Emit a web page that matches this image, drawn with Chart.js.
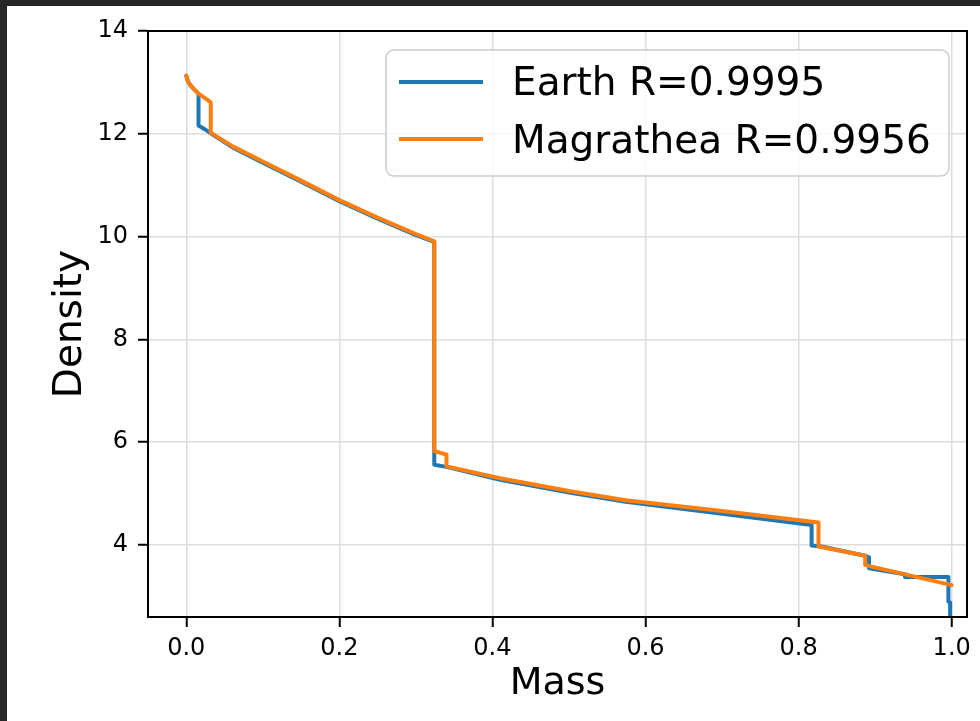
<!DOCTYPE html>
<html>
<head>
<meta charset="utf-8">
<script src="https://cdn.jsdelivr.net/npm/chart.js@4/dist/chart.umd.min.js"></script>
<style>
    html, body { margin: 0; padding: 0; background: #272727; }
    #wrap { width: 980px; height: 721px; }
</style>
</head>
<body>
<div id="wrap"><canvas id="densityChart" width="980" height="721"></canvas></div>
<script>
// Earth profile (mass fraction vs density)
const earthMass = [0, 0.002, 0.005, 0.010, 0.016, 0.016, 0.024, 0.033, 0.060, 0.100, 0.150, 0.200, 0.250, 0.300, 0.324,
    0.324, 0.340, 0.410, 0.500, 0.574, 0.700, 0.817, 0.817, 0.830, 0.887, 0.892, 0.892, 0.939, 0.939, 0.9957, 0.9957, 0.998, 0.998];
const earthDensity = [13.13, 13.03, 12.95, 12.87, 12.78, 12.16, 12.09, 12.00, 11.74, 11.44, 11.07, 10.69, 10.35, 10.03, 9.90,
    5.56, 5.52, 5.27, 5.02, 4.84, 4.61, 4.39, 3.99, 3.97, 3.79, 3.76, 3.55, 3.43, 3.38, 3.38, 2.90, 2.88, 2.40];

// Magrathea profile
const magMass = [0, 0.002, 0.005, 0.010, 0.016, 0.024, 0.032, 0.032, 0.060, 0.100, 0.150, 0.200, 0.250, 0.300, 0.324,
    0.324, 0.340, 0.340, 0.410, 0.500, 0.574, 0.700, 0.826, 0.826, 0.887, 0.887, 1.000];
const magDensity = [13.13, 13.03, 12.95, 12.87, 12.78, 12.70, 12.61, 12.02, 11.76, 11.46, 11.09, 10.71, 10.37, 10.05, 9.91,
    5.83, 5.76, 5.53, 5.30, 5.05, 4.87, 4.66, 4.44, 3.97, 3.79, 3.61, 3.22];

const seriesLabels = ["Earth R=0.9995", "Magrathea R=0.9956"];
const seriesColors = ["#1f77b4", "#ff7f0e"];
const xTicks = [0, 0.2, 0.4, 0.6, 0.8, 1.0];
const yTicks = [4, 6, 8, 10, 12, 14];

const FONT = "DejaVu Sans";
const LINE_W = 4;

function toPoints(xs, ys) {
    return xs.map((x, i) => ({ x: x, y: ys[i] }));
}

// dark frame + white figure background, spines on all four sides
const framePlugin = {
    id: "frame",
    beforeDraw(chart) {
        const ctx = chart.ctx;
        ctx.save();
        ctx.fillStyle = "#272727";
        ctx.fillRect(0, 0, chart.width, chart.height);
        ctx.fillStyle = "#ffffff";
        ctx.fillRect(7, 6, chart.width - 7, chart.height - 6);
        ctx.restore();
    },
    afterDraw(chart) {
        const a = chart.chartArea;
        const ctx = chart.ctx;
        ctx.save();
        ctx.strokeStyle = "#000";
        ctx.lineWidth = 2;
        ctx.strokeRect(a.left, a.top, a.right - a.left, a.bottom - a.top);
        ctx.restore();
    }
};

// matplotlib-like legend inside the plot
const boxLegend = {
    id: "boxLegend",
    afterDraw(chart) {
        const ctx = chart.ctx;
        const x = 386, y = 50, w = 563, h = 126, r = 8;
        ctx.save();
        ctx.beginPath();
        ctx.roundRect(x, y, w, h, r);
        ctx.fillStyle = "rgba(255,255,255,0.8)";
        ctx.fill();
        ctx.strokeStyle = "#cccccc";
        ctx.lineWidth = 1.5;
        ctx.stroke();
        ctx.font = "39px '" + FONT + "'";
        ctx.textBaseline = "alphabetic";
        chart.data.datasets.forEach((ds, i) => {
            const ly = 82 + i * 57;
            ctx.beginPath();
            ctx.moveTo(399, ly);
            ctx.lineTo(483, ly);
            ctx.strokeStyle = ds.borderColor;
            ctx.lineWidth = LINE_W;
            ctx.stroke();
            ctx.fillStyle = "#000";
            ctx.fillText(ds.label, 512, 95 + i * 58);
        });
        ctx.restore();
    }
};

new Chart(document.getElementById("densityChart"), {
    type: "scatter",
    data: {
        datasets: [
            { label: seriesLabels[0], data: toPoints(earthMass, earthDensity), borderColor: seriesColors[0],
              borderWidth: LINE_W, showLine: true, order: 1 },
            { label: seriesLabels[1], data: toPoints(magMass, magDensity), borderColor: seriesColors[1],
              borderWidth: LINE_W, showLine: true, order: 0 }
        ]
    },
    options: {
        responsive: false,
        animation: false,
        layout: { padding: { left: 0, right: 13, top: 31, bottom: 0 } },
        elements: {
            line: { tension: 0, fill: false, borderJoinStyle: "round", borderCapStyle: "round" },
            point: { radius: 0, hoverRadius: 0 }
        },
        plugins: { legend: { display: false }, tooltip: { enabled: false } },
        scales: {
            x: {
                type: "linear",
                min: -0.05,
                max: 1.02,
                afterFit: scale => { scale.height = 104; },
                afterBuildTicks: scale => { scale.ticks = xTicks.map(v => ({ value: v })); },
                ticks: {
                    padding: 7,
                    color: "#000",
                    font: { family: FONT, size: 24 },
                    maxRotation: 0,
                    callback: v => Number(v).toFixed(1)
                },
                grid: { color: "#dddddd", lineWidth: 1.5, tickColor: "#000", tickLength: 10, tickWidth: 2 },
                border: { color: "#000", width: 2 },
                title: {
                    display: true, text: "Mass", color: "#000",
                    font: { family: FONT, size: 38 }, padding: { top: 0, bottom: 14 }
                }
            },
            y: {
                type: "linear",
                min: 2.6,
                max: 14,
                afterFit: scale => { scale.width = 148; },
                afterBuildTicks: scale => { scale.ticks = yTicks.map(v => ({ value: v })); },
                ticks: {
                    padding: 10,
                    color: "#000",
                    font: { family: FONT, size: 24 },
                    callback: v => String(v)
                },
                grid: { color: "#dddddd", lineWidth: 1.5, tickColor: "#000", tickLength: 10, tickWidth: 2 },
                border: { color: "#000", width: 2 },
                title: {
                    display: true, text: "Density", color: "#000",
                    font: { family: FONT, size: 39 }, padding: { top: 47, bottom: 0 }
                }
            }
        }
    },
    plugins: [framePlugin, boxLegend]
});
</script>
</body>
</html>
